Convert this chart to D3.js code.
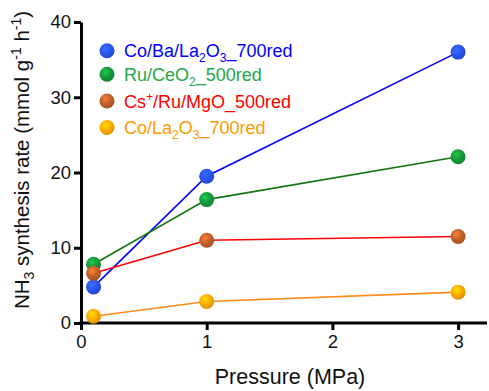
<!DOCTYPE html>
<html>
<head>
<meta charset="utf-8">
<script src="https://cdn.jsdelivr.net/npm/d3@7"></script>
<style>
  body { margin: 0; background: #fff; }
  text { font-family: Arial, "Liberation Sans", sans-serif; }
</style>
</head>
<body>
<script>
var pressures = [0.1, 1, 3];
var seriesNames = ["Co/Ba/La2O3_700red", "Ru/CeO2_500red", "Cs+/Ru/MgO_500red", "Co/La2O3_700red"];
var coBaLa = [4.8, 19.5, 36.0];
var ruCe = [7.8, 16.4, 22.1];
var csRuMg = [6.6, 11.0, 11.5];
var coLa = [0.9, 2.85, 4.1];
var xTicks = [0, 1, 2, 3];
var yTicks = [0, 10, 20, 30, 40];

var width = 489, height = 391;
var margin = {left: 81, top: 22, right: 2, bottom: 67};

// line colour, ball colour, label colour
var styles = [
  {line: "#0000ff", ball: "#2a55ee", text: "#0000ff"},
  {line: "#117711", ball: "#16993a", text: "#1fa848"},
  {line: "#ff0000", ball: "#c0602a", text: "#ff0000"},
  {line: "#ff8a1a", ball: "#ffaa00", text: "#ff9a00"}
];
var allSeries = [coBaLa, ruCe, csRuMg, coLa];

var svg = d3.select("body").append("svg")
    .attr("width", width)
    .attr("height", height);

var defs = svg.append("defs");
styles.forEach(function(s, i) {
  var g = defs.append("radialGradient")
      .attr("id", "ball" + i)
      .attr("cx", "40%").attr("cy", "35%").attr("r", "65%");
  g.append("stop").attr("offset", "0%").attr("stop-color", d3.color(s.ball).brighter(0.8));
  g.append("stop").attr("offset", "55%").attr("stop-color", s.ball);
  g.append("stop").attr("offset", "100%").attr("stop-color", d3.color(s.ball).darker(0.4));
});

var x = d3.scaleLinear().domain([0, 3.23]).range([margin.left, width - margin.right]);
var y = d3.scaleLinear().domain([0, 40]).range([height - margin.bottom - 1, margin.top]);

var xAxis = svg.append("g")
    .attr("transform", "translate(0," + y(0) + ")")
    .call(d3.axisBottom(x).tickValues(xTicks).tickFormat(d3.format("d")).tickSize(7).tickSizeOuter(0).tickPadding(5));
var yAxis = svg.append("g")
    .attr("transform", "translate(" + x(0) + ",0)")
    .call(d3.axisLeft(y).tickValues(yTicks).tickSize(7).tickSizeOuter(0).tickPadding(3));

[xAxis, yAxis].forEach(function(a) {
  a.select(".domain").attr("stroke", "#000").attr("stroke-width", 3);
  a.selectAll(".tick line").attr("stroke", "#000").attr("stroke-width", 3);
  a.selectAll(".tick text").attr("fill", "#111").style("font-size", "18.5px")
    .style("font-family", "Arial, 'Liberation Sans', sans-serif");
});
// extend x domain line to cover y axis corner
xAxis.select(".domain").attr("d", "M" + (x(0) - 1.5) + ",0H" + (width - margin.right));

var line = d3.line()
    .x(function(d, i) { return x(pressures[i]); })
    .y(function(d) { return y(d); });

allSeries.forEach(function(vals, i) {
  svg.append("path")
      .datum(vals)
      .attr("fill", "none")
      .attr("stroke", styles[i].line)
      .attr("stroke-width", 1.6)
      .attr("d", line);
});
allSeries.forEach(function(vals, i) {
  svg.append("g").selectAll("circle")
    .data(vals)
    .enter().append("circle")
      .attr("cx", function(d, j) { return x(pressures[j]); })
      .attr("cy", function(d) { return y(d); })
      .attr("r", 7.5)
      .attr("fill", "url(#ball" + i + ")");
});

// legend
var legendParts = [
  [["Co/Ba/La", 0], ["2", 1], ["O", 0], ["3", 1], ["_700red", 0]],
  [["Ru/CeO", 0], ["2", 1], ["_500red", 0]],
  [["Cs", 0], ["+", -1], ["/Ru/MgO_500red", 0]],
  [["Co/La", 0], ["2", 1], ["O", 0], ["3", 1], ["_700red", 0]]
];
var legendY = [50.7, 74.3, 101, 127.5];
legendParts.forEach(function(parts, i) {
  var g = svg.append("g").attr("class", "legend").attr("data-name", seriesNames[i]);
  g.append("circle")
      .attr("cx", 107).attr("cy", legendY[i]).attr("r", 7.5)
      .attr("fill", "url(#ball" + i + ")");
  var t = g.append("text")
      .attr("x", 124).attr("y", legendY[i] + 6.5)
      .attr("fill", styles[i].text)
      .style("font-size", "18px");
  parts.forEach(function(p) {
    var ts = t.append("tspan").text(p[0]);
    if (p[1] === 1) ts.style("font-size", "12px").attr("dy", 5);
    else if (p[1] === -1) ts.style("font-size", "12px").attr("dy", -7);
    else ts.attr("dy", 0);
  });
  // reset baseline after sub/superscripts
  t.selectAll("tspan").each(function(d, k) {
    var prev = parts[k - 1];
    if (k > 0 && prev[1] !== 0 && parts[k][1] === 0) {
      d3.select(this).attr("dy", prev[1] === 1 ? -5 : 7);
    } else if (k > 0 && prev[1] === 1 && parts[k][1] === 1) {
      d3.select(this).attr("dy", 0);
    }
  });
});

// axis titles
svg.append("text")
    .attr("x", 290)
    .attr("y", 384)
    .attr("text-anchor", "middle")
    .attr("fill", "#111")
    .style("font-size", "21.5px")
    .text("Pressure (MPa)");

var yt = svg.append("text")
    .attr("transform", "translate(29,160) rotate(-90)")
    .attr("text-anchor", "middle")
    .attr("fill", "#111")
    .style("font-size", "20.5px");
yt.append("tspan").text("NH");
yt.append("tspan").text("3").style("font-size", "14px").attr("dy", 5);
yt.append("tspan").text(" synthesis rate (mmol g").attr("dy", -5);
yt.append("tspan").text("-1").style("font-size", "14px").attr("dy", -8);
yt.append("tspan").text(" h").attr("dy", 8);
yt.append("tspan").text("-1").style("font-size", "14px").attr("dy", -8);
yt.append("tspan").text(")").attr("dy", 8);
</script>
</body>
</html>
